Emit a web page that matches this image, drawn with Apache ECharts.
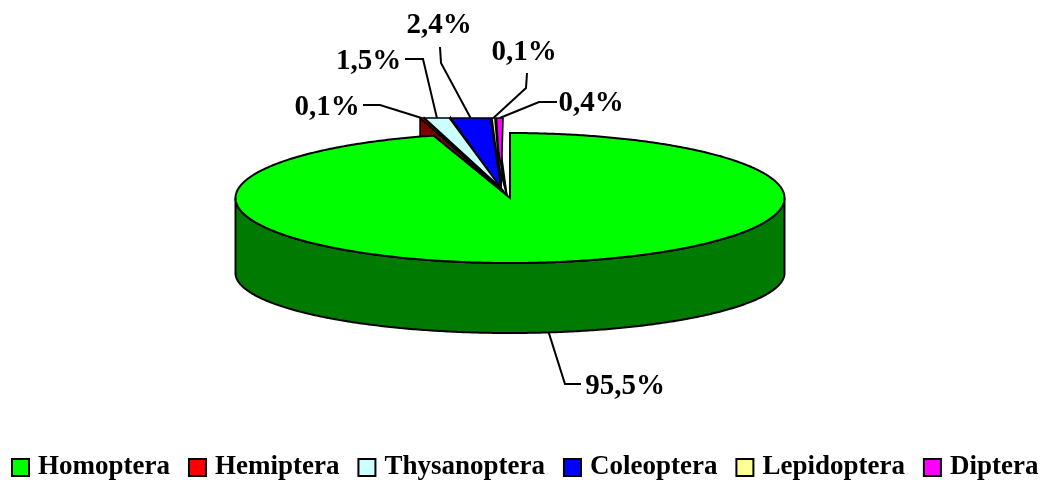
<!DOCTYPE html>
<html>
<head>
<meta charset="utf-8">
<style>html,body{margin:0;padding:0;background:#fff}</style>
<script src="https://cdn.jsdelivr.net/npm/echarts@6/dist/echarts.min.js"></script>
</head>
<body>
<div id="main" style="width:1046px;height:480px;"></div>
<script>
var categories = ['Homoptera', 'Hemiptera', 'Thysanoptera', 'Coleoptera', 'Lepidoptera', 'Diptera'];
var values = [95.5, 0.1, 1.5, 2.4, 0.1, 0.4];
var topColors = ['#00ff00', '#ff0000', '#ccffff', '#0000ff', '#ffff99', '#ff00ff'];
var sideColors = ['#007a00', '#800000', '#668080', '#000080', '#80804d', '#800080'];
// where each label text sits, and the elbow of its leader line
var labelAt = [[625, 387], [327, 108], [368.5, 62], [439, 26], [524, 52.5], [591, 104]];
var lineFrom = [[581, 384], [363, 105], [405, 59], [440, 47], [527, 73], [557, 102]];
var lineElbow = [[565, 384], [380, 105], [423, 59], [441, 63], [526, 88], [539, 102]];

// ellipse of the big slice
var cx = 510, cy = 198, rx = 274.5, ry = 65;
var bottomDy = 75, bottomRy = 60;
// the small slices are pulled out of the notch, flat along their outer edge
var apex = [501, 188], flatY = 118, flatRight = 503, pxPerPct = 16.5, flatGap = 1.5, minWidth = 3, wallH = 22;

// right edge of each small slice, walking leftwards from Diptera
var rightEdge = [];
var walk = flatRight;
for (var n = values.length - 1; n >= 1; n--) {
	rightEdge[n] = walk;
	walk -= sliceWidth(n) + flatGap;
}

function sliceWidth(i) {
	return Math.max(values[i] * pxPerPct, minWidth);
}
function pt(a, dy, ryy) {
	return [cx + rx * Math.sin(a), cy + (dy || 0) - (ryy || ry) * Math.cos(a)];
}

function renderBig(params, api) {
	var i = params.seriesIndex;
	var end = values[i] / 100 * Math.PI * 2;
	var top = [], side = [];
	var a;
	for (a = 0; a <= end; a += 0.01) top.push(pt(a));
	top.push(pt(end));
	top.push([cx, cy]);
	for (a = Math.PI / 2; a <= Math.PI * 1.5; a += 0.01) side.push(pt(a));
	for (a = Math.PI * 1.5; a >= Math.PI / 2; a -= 0.01) side.push(pt(a, bottomDy, bottomRy));
	var mid = end / 2;
	var lineEnd = pt(mid, bottomDy, bottomRy);
	return {
		type: 'group',
		children: [
			{ type: 'polygon', shape: { points: side }, style: { fill: sideColors[i], stroke: '#000', lineWidth: 2 } },
			{ type: 'polygon', shape: { points: top }, style: { fill: topColors[i], stroke: '#000', lineWidth: 2 } },
			leader(i, lineEnd),
			label(i)
		]
	};
}

function renderSmall(params, api) {
	var i = params.seriesIndex;
	var r = [rightEdge[i], flatY];
	var l = [rightEdge[i] - sliceWidth(i), flatY];
	var m = [(l[0] + r[0]) / 2, flatY];
	return {
		type: 'group',
		children: [
			{ type: 'polygon', shape: { points: [l, [l[0], l[1] + wallH], [cx - 3, cy - 2]] }, style: { fill: sideColors[i], stroke: '#000', lineWidth: 1.6 } },
			{ type: 'polygon', shape: { points: [apex, l, r] }, style: { fill: topColors[i], stroke: '#000', lineWidth: 1.6 } },
			leader(i, m),
			label(i)
		]
	};
}

function leader(i, end) {
	return {
		type: 'polyline',
		shape: { points: [lineFrom[i], lineElbow[i], end] },
		style: { fill: null, stroke: '#000', lineWidth: 2 }
	};
}
function label(i) {
	return {
		type: 'text',
		x: labelAt[i][0],
		y: labelAt[i][1],
		style: {
			text: values[i].toFixed(1).replace('.', ',') + '%',
			font: 'bold 29px "Liberation Serif"',
			fill: '#000',
			align: 'center',
			verticalAlign: 'middle'
		}
	};
}

var zOrder = [6, 5, 4, 3, 2, 1];
var series = categories.map(function (name, i) {
	return {
		type: 'custom',
		name: name,
		coordinateSystem: 'none',
		z: zOrder[i],
		silent: true,
		itemStyle: { color: topColors[i] },
		data: [values[i]],
		renderItem: i === 0 ? renderBig : renderSmall
	};
});

var myChart = echarts.init(document.getElementById('main'));
var option = {
	animation: false,
	backgroundColor: '#fff',
	legend: {
		data: categories,
		left: 11,
		top: 454,
		padding: 0,
		icon: 'rect',
		itemWidth: 17,
		itemHeight: 17,
		itemGap: 18,
		selectedMode: false,
		itemStyle: { borderColor: '#000', borderWidth: 2 },
		textStyle: {
			fontFamily: 'Liberation Serif',
			fontWeight: 'bold',
			fontSize: 27,
			color: '#000',
			padding: [0, 0, 0, 4]
		}
	},
	series: series
};
myChart.setOption(option);
</script>
</body>
</html>
